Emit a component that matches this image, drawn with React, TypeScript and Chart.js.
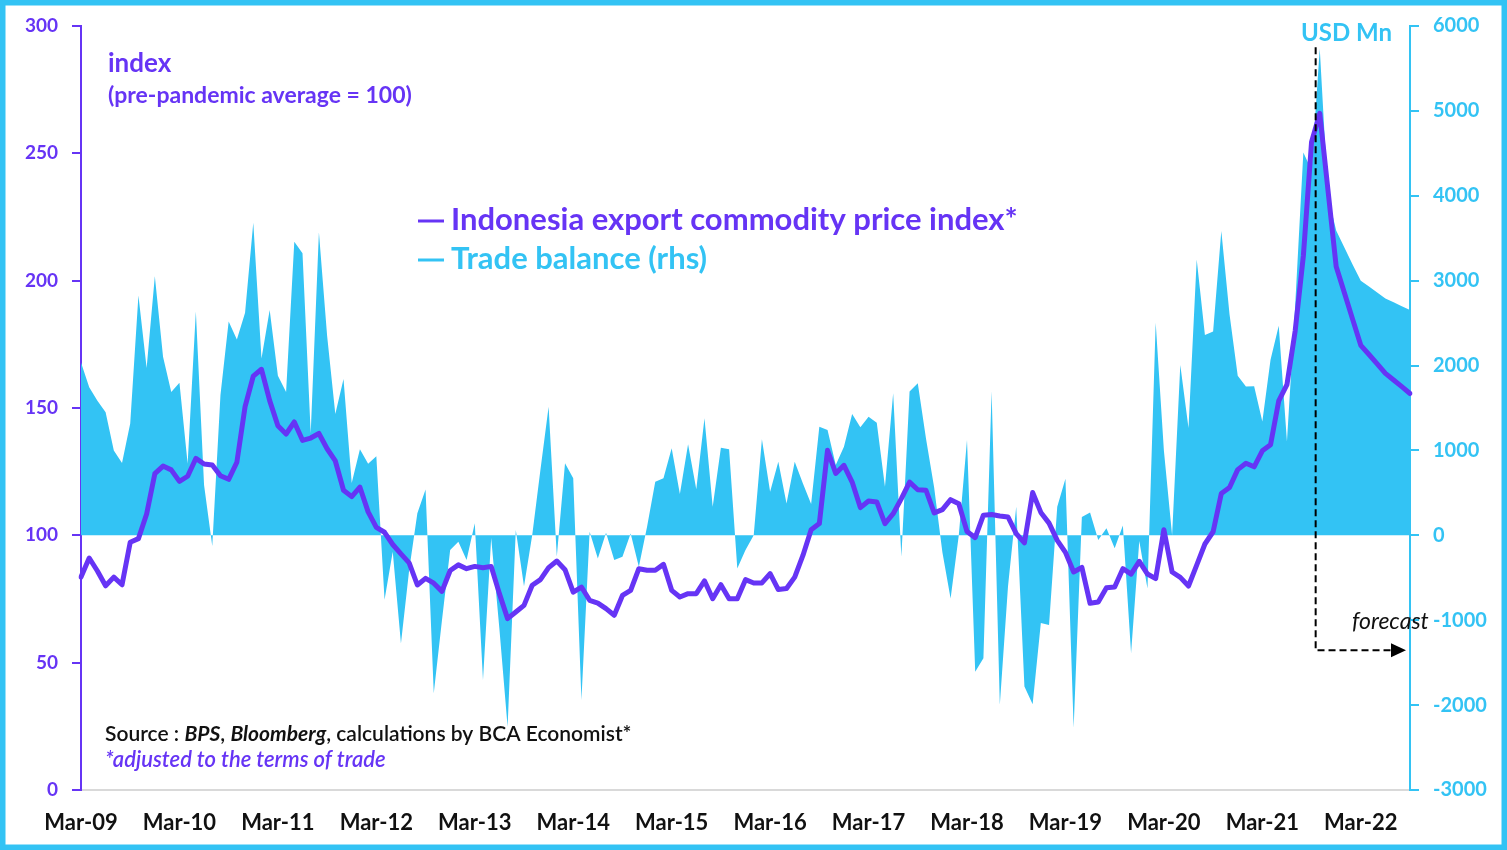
import { useEffect, useRef } from 'react';
import { Chart, registerables } from 'chart.js';

Chart.register(...registerables);

const PURPLE = '#6634F5';
const BLUE = '#33C3F4';
const FONT = 'Lato';

const MONTH_NAMES = ['Jan', 'Feb', 'Mar', 'Apr', 'May', 'Jun', 'Jul', 'Aug', 'Sep', 'Oct', 'Nov', 'Dec'];

// Indonesia export commodity price index (monthly, Mar-09 .. Sep-22)
const indexValues = [
  83.6, 91.1, 86, 80.2, 83.6, 80.6, 97.3, 98.7, 108.4, 124.2, 127.2, 125.7,
  121.2, 123.2, 130.2, 128, 127.6, 123.4, 122, 128.7, 150.5, 162.5, 165.2, 152.9,
  143, 139.8, 144.5, 137.3, 138.2, 140, 134, 129.2, 117.7, 115.2, 118.9, 109.2,
  103.1, 101.2, 96.4, 92.7, 89.2, 80.5, 83.1, 81.2, 78, 86.2, 88.4, 86.9,
  87.8, 87.3, 87.8, 77.1, 67.3, 69.9, 72.5, 80.4, 82.6, 87.3, 89.9, 86.5,
  77.7, 79.7, 74.5, 73.4, 71.2, 68.6, 76.4, 78.4, 86.9, 86.3, 86.3, 88.6,
  78.4, 75.8, 77.1, 77.1, 82.1, 75.1, 80.6, 75.1, 75.1, 82.6, 81.3, 81.3,
  85, 78.7, 79.1, 83.6, 92.1, 102.2, 104.6, 133.4, 124.3, 127.5, 120.9, 110.9,
  113.5, 113.1, 104.6, 108.5, 114.4, 120.9, 117.9, 117.7, 108.8, 110.1, 114, 112.4,
  101.5, 99.1, 107.9, 108.2, 107.6, 107.2, 100.7, 97, 116.8, 109, 104.8, 98,
  93.3, 85.6, 87.4, 73.3, 73.8, 79.4, 79.7, 86.9, 84.8, 89.8, 84.8, 83,
  102.2, 85.6, 83.5, 80.1, 88.3, 96.6, 101.4, 116.4, 118.8, 125.8, 128.3, 126.9,
  133.2, 135.6, 152.8, 159.2, 180.2, 209.7, 254.5, 265.7, 235.6, 205.6, 195.3, 184.9,
  174.6, 171, 167.3, 163.6, 161, 158.4, 155.7,
];

// Trade balance, USD Mn (rhs)
const tradeBalance = [
  2037, 1743, 1585, 1450, 1000, 852, 1316, 2826, 1970, 3051, 2104, 1689,
  1798, 842, 2636, 594, -126, 1653, 2520, 2308, 2623, 3682, 2082, 2654,
  1879, 1689, 3457, 3322, 1203, 3569, 2352, 1429, 1842, 616, 1013, 842,
  932, -759, -194, -1275, -410, 259, 541, -1861, -1000, -174, -75, -292,
  141, -1705, -30, -1100, -2254, 62, -600, 0, 770, 1515, -250, 848,
  671, -1940, 42, -272, 31, -291, -252, 23, -370, 100, 632, 672,
  1025, 487, 1072, 542, 1378, 337, 1032, 1013, -390, -173, 0, 1131,
  514, 868, 376, 868, 612, 369, 1280, 1241, 828, 1044, 1429, 1272,
  1398, 1327, 573, 1673, -252, 1693, 1791, 1140, 560, -200, -744, 0,
  1123, -1608, -1449, 1697, -1995, -600, 337, -1780, -1990, -1034, -1057, 336,
  668, -2270, 215, 270, -56, 84, -152, 115, -1390, -68, -626, 2505,
  1000, 0, 2007, 1264, 3249, 2360, 2401, 3585, 2603, 1880, 1754, 1757,
  1342, 2069, 2469, 1105, 2700, 4509, 4300, 5733, 4000, 3590, 3390, 3190,
  3000, 2930, 2860, 2790, 2745, 2700, 2655,
];

const xTickLabels = [
  'Mar-09', 'Mar-10', 'Mar-11', 'Mar-12', 'Mar-13', 'Mar-14', 'Mar-15',
  'Mar-16', 'Mar-17', 'Mar-18', 'Mar-19', 'Mar-20', 'Mar-21', 'Mar-22',
];

const categories = indexValues.map((_, i) => {
  const m = (2 + i) % 12;
  const y = 2009 + Math.floor((2 + i) / 12);
  return `${MONTH_NAMES[m]}-${String(y % 100).padStart(2, '0')}`;
});

// forecast marker: position (in category index) and right-axis span
const forecastIndex = 150.5;
const forecastTop = 5750;
const forecastBottom = -1355;

const overlayPlugin = {
  id: 'overlay',
  afterDraw(chart: any) {
    const ctx = chart.ctx as CanvasRenderingContext2D;
    const x = chart.scales.x;
    const y1 = chart.scales.y1;
    ctx.save();

    // frame
    ctx.strokeStyle = BLUE;
    ctx.lineWidth = 11;
    ctx.strokeRect(0, 0, chart.width, chart.height);

    ctx.textBaseline = 'middle';
    ctx.textAlign = 'left';

    // left axis title
    ctx.fillStyle = PURPLE;
    ctx.font = `bold 26px ${FONT}`;
    ctx.fillText('index', 108, 64);
    ctx.font = `bold 23px ${FONT}`;
    ctx.fillText('(pre-pandemic average = 100)', 108, 96);

    // legend
    ctx.lineWidth = 3;
    ctx.strokeStyle = PURPLE;
    ctx.beginPath();
    ctx.moveTo(418, 221);
    ctx.lineTo(444, 221);
    ctx.stroke();
    ctx.font = `bold 31px ${FONT}`;
    ctx.fillStyle = PURPLE;
    ctx.fillText('Indonesia export commodity price index*', 451, 220);
    ctx.strokeStyle = BLUE;
    ctx.beginPath();
    ctx.moveTo(418, 260);
    ctx.lineTo(444, 260);
    ctx.stroke();
    ctx.fillStyle = BLUE;
    ctx.fillText('Trade balance (rhs)', 451, 259);

    // right axis unit
    ctx.font = `bold 24px ${FONT}`;
    ctx.textAlign = 'right';
    ctx.fillText('USD Mn', 1392, 33);
    ctx.textAlign = 'left';

    // source
    let sx = 105;
    const sy = 734;
    const seg = (t: string, font: string, color: string) => {
      ctx.font = font;
      ctx.fillStyle = color;
      ctx.fillText(t, sx, sy);
      sx += ctx.measureText(t).width;
    };
    seg('Source : ', `600 21px ${FONT}`, '#111111');
    seg('BPS', `italic bold 21px ${FONT}`, '#111111');
    seg(', ', `600 21px ${FONT}`, '#111111');
    seg('Bloomberg', `italic bold 21px ${FONT}`, '#111111');
    seg(', calculations by BCA Economist*', `600 21px ${FONT}`, '#111111');
    ctx.font = `italic 600 22px ${FONT}`;
    ctx.fillStyle = PURPLE;
    ctx.fillText('*adjusted to the terms of trade', 105, 760);

    // forecast marker
    const fx = x.getPixelForValue(forecastIndex);
    const ft = y1.getPixelForValue(forecastTop);
    const fb = y1.getPixelForValue(forecastBottom);
    const fr = chart.chartArea.right - 4;
    ctx.strokeStyle = '#000000';
    ctx.lineWidth = 2;
    ctx.setLineDash([7, 4]);
    ctx.beginPath();
    ctx.moveTo(fx, ft);
    ctx.lineTo(fx, fb);
    ctx.lineTo(fr - 14, fb);
    ctx.stroke();
    ctx.setLineDash([]);
    ctx.fillStyle = '#000000';
    ctx.beginPath();
    ctx.moveTo(fr, fb);
    ctx.lineTo(fr - 15, fb - 7);
    ctx.lineTo(fr - 15, fb + 7);
    ctx.closePath();
    ctx.fill();

    ctx.font = `italic 23px ${FONT}`;
    ctx.fillStyle = '#111111';
    ctx.fillText('forecast', 1352, 622);

    ctx.restore();
  },
};

export default function App() {
  const ref = useRef<HTMLCanvasElement | null>(null);

  useEffect(() => {
    const canvas = ref.current;
    if (!canvas) return;
    const chart = new Chart(canvas, {
      type: 'line',
      data: {
        labels: categories,
        datasets: [
          {
            label: 'Indonesia export commodity price index*',
            data: indexValues,
            yAxisID: 'y',
            borderColor: PURPLE,
            borderWidth: 5,
            pointRadius: 0,
            tension: 0,
            fill: false,
            borderJoinStyle: 'round',
            borderCapStyle: 'round',
            order: 0,
          },
          {
            label: 'Trade balance (rhs)',
            data: tradeBalance,
            yAxisID: 'y1',
            borderWidth: 0,
            borderColor: BLUE,
            backgroundColor: BLUE,
            pointRadius: 0,
            tension: 0,
            fill: 'origin',
            order: 1,
          },
        ],
      },
      options: {
        responsive: false,
        animation: false,
        devicePixelRatio: 1,
        layout: { padding: { top: 26, left: 0, right: 0, bottom: 0 } },
        plugins: {
          legend: { display: false },
          tooltip: { enabled: false },
          title: { display: false },
        },
        scales: {
          x: {
            type: 'category',
            offset: false,
            grid: { display: false, drawTicks: false },
            border: { display: true, color: '#d9d9d9', width: 2 },
            ticks: {
              autoSkip: false,
              maxRotation: 0,
              padding: 20,
              color: '#111111',
              font: { family: FONT, size: 22, weight: 'bold' },
              callback: (_v: any, i: number) =>
                xTickLabels.includes(categories[i]) ? categories[i] : null,
            },
            afterFit: (s: any) => {
              s.height = 60;
            },
          },
          y: {
            position: 'left',
            min: 0,
            max: 300,
            ticks: {
              stepSize: 50,
              padding: 14,
              color: PURPLE,
              font: { family: FONT, size: 19, weight: 'bold' },
              callback: (v: any) => String(v),
            },
            grid: { drawOnChartArea: false, color: PURPLE, tickLength: 9, lineWidth: 2 },
            border: { color: PURPLE, width: 2 },
            afterFit: (s: any) => {
              s.width = 81;
            },
          },
          y1: {
            position: 'right',
            min: -3000,
            max: 6000,
            ticks: {
              stepSize: 1000,
              padding: 14,
              color: BLUE,
              font: { family: FONT, size: 20, weight: 'bold' },
              callback: (v: any) => String(v),
            },
            grid: { drawOnChartArea: false, color: BLUE, tickLength: 9, lineWidth: 2 },
            border: { color: BLUE, width: 2 },
            afterFit: (s: any) => {
              s.width = 97;
            },
          },
        },
      },
      plugins: [overlayPlugin],
    });
    return () => chart.destroy();
  }, []);

  return (
    <div
      style={{
        position: 'fixed',
        left: 0,
        top: 0,
        width: 1507,
        height: 850,
        background: '#ffffff',
      }}
    >
      <canvas ref={ref} width={1507} height={850} style={{ display: 'block', width: 1507, height: 850 }} />
    </div>
  );
}
